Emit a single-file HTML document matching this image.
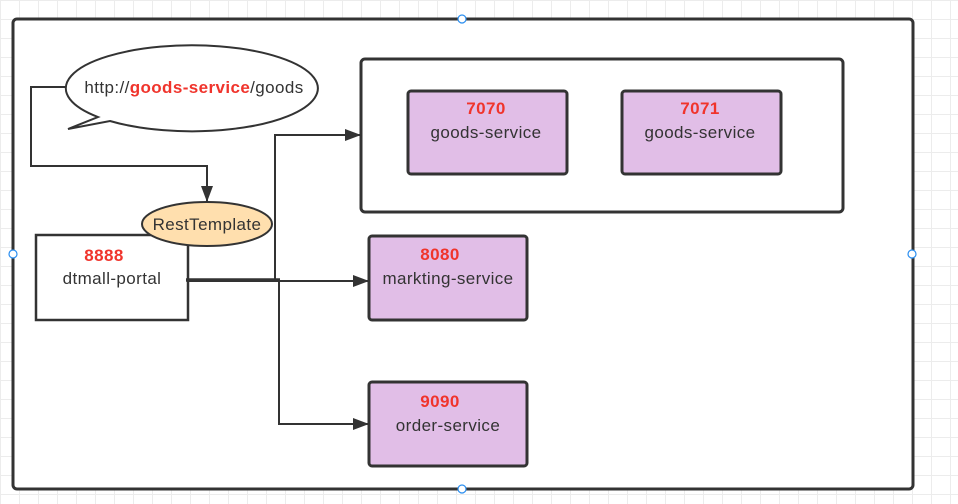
<!DOCTYPE html>
<html><head><style>
html,body{margin:0;padding:0;}
body{width:958px;height:504px;background-color:#fff;background-image:linear-gradient(#ececec 1px,transparent 1px),linear-gradient(90deg,#ececec 1px,transparent 1px);background-size:19px 19px;overflow:hidden;}
svg{position:absolute;left:0;top:0;}
text{font-family:"Liberation Sans",sans-serif;}
</style></head><body>
<svg width="958" height="504" viewBox="0 0 958 504">
<defs>
<marker id="b" markerWidth="16" markerHeight="12" refX="15" refY="6" orient="auto" markerUnits="userSpaceOnUse"><path d="M0,0 L16,6 L0,12 z" fill="#333"/></marker></defs>
<rect x="13" y="19" width="900" height="470" rx="4" fill="#fff" stroke="#333" stroke-width="3"/>
<rect x="361" y="59" width="482" height="153" rx="4" fill="#fff" stroke="#333" stroke-width="3"/>
<g fill="#e1bee7" stroke="#333" stroke-width="3">
<rect x="408" y="91" width="159" height="83" rx="3"/>
<rect x="622" y="91" width="159" height="83" rx="3"/>
<rect x="369" y="236" width="158" height="84" rx="3"/>
<rect x="369" y="382" width="158" height="84" rx="3"/>
</g>
<g fill="none" stroke="#333" stroke-width="2">
<polyline points="68,87 31,87 31,166 207,166 207,201" marker-end="url(#b)"/>
<polyline points="275,280 275,135 360,135" marker-end="url(#b)"/>
<polyline points="279,280 279,424 368,424" marker-end="url(#b)"/>
<polyline points="186,281 368,281" marker-end="url(#b)"/>
</g>
<path d="M98,117 A126,43 0 1,1 110,121 L68,129 Z" fill="#fff" stroke="#333" stroke-width="2"/>
<rect x="36" y="235" width="152" height="85" fill="#fff" stroke="#333" stroke-width="2.5"/>
<ellipse cx="207" cy="224" rx="65" ry="22" fill="#ffdfae" stroke="#333" stroke-width="2"/>
<line x1="186" y1="280" x2="280" y2="280" stroke="#333" stroke-width="3.5"/>
<g font-size="17" text-anchor="middle" fill="#333" letter-spacing="0.4">
<text x="194" y="93">http://<tspan fill="#f0342c" font-weight="bold">goods-service</tspan>/goods</text>
<text x="207" y="230">RestTemplate</text>
<text x="104" y="261" fill="#f0342c" font-weight="bold">8888</text>
<text x="112" y="284">dtmall-portal</text>
<text x="486" y="114" fill="#f0342c" font-weight="bold">7070</text>
<text x="486" y="138">goods-service</text>
<text x="700" y="114" fill="#f0342c" font-weight="bold">7071</text>
<text x="700" y="138">goods-service</text>
<text x="440" y="260" fill="#f0342c" font-weight="bold">8080</text>
<text x="448" y="284">markting-service</text>
<text x="440" y="407" fill="#f0342c" font-weight="bold">9090</text>
<text x="448" y="431">order-service</text>
</g>
<g fill="#fff" stroke="#2a8ef0" stroke-width="1.2">
<circle cx="462" cy="19" r="4"/><circle cx="13" cy="254" r="4"/><circle cx="912" cy="254" r="4"/><circle cx="462" cy="489" r="4"/>
</g>
</svg>
</body></html>
